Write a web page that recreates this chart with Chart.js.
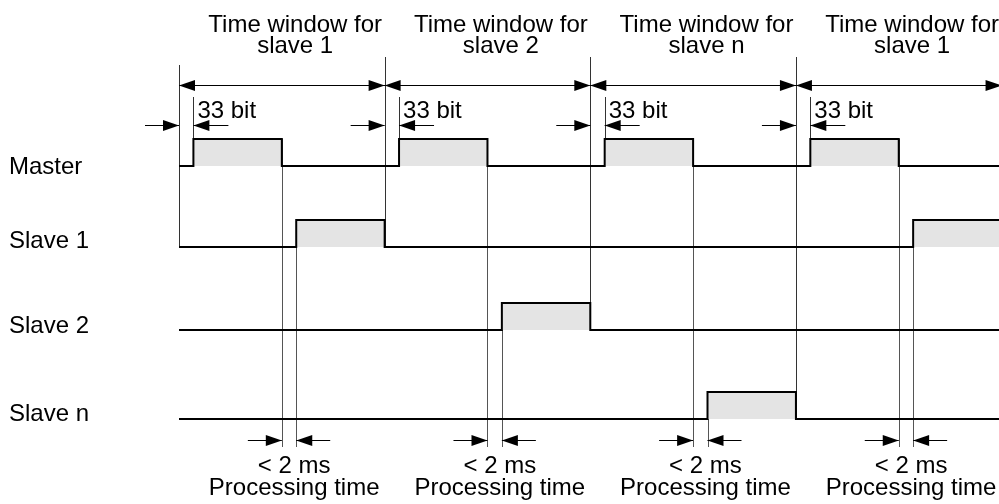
<!DOCTYPE html>
<html>
<head>
<meta charset="utf-8">
<script src="https://cdn.jsdelivr.net/npm/chart.js@4"></script>
<style>
  html, body { margin: 0; padding: 0; background: #fff; }
  #wrap { width: 999px; height: 504px; position: relative; }
</style>
</head>
<body>
<div id="wrap"><canvas id="timing"></canvas></div>
<script>
// timing diagram: master polls slaves one time window each

// data (time in units, one window = 20 units)
const windowStarts = [0, 20, 40, 60];
const windowLength = 20;
const windowTitles = [
  ['Time window for', 'slave 1'],
  ['Time window for', 'slave 2'],
  ['Time window for', 'slave n'],
  ['Time window for', 'slave 1']
];
const laneNames = ['Master', 'Slave 1', 'Slave 2', 'Slave n'];
const masterPulses = [[1.4, 10], [21.4, 30], [41.4, 50], [61.4, 70]];
const slave1Pulses = [[11.4, 20], [71.4, 80]];
const slave2Pulses = [[31.4, 40]];
const slaveNPulses = [[51.4, 60]];
const responderLane = [1, 2, 3, 1];   // which lane answers in each window
const bitLabel = '33 bit';
const procLabels = ['< 2 ms', 'Processing time'];

// layout (y scale runs top -> bottom in pixel-like units)
const laneBase = [166, 247, 330, 419];
const pulseHeight = 27;
const xMin = -17.41, xMax = 79.75;
const FONT = '24px "Liberation Sans", Arial, sans-serif';

function wave(pulses, base) {
  const hi = base - pulseHeight;
  const pts = [{ x: 0, y: base }];
  pulses.forEach(([s, e]) => {
    pts.push({ x: s, y: base }, { x: s, y: hi }, { x: e, y: hi }, { x: e, y: base });
  });
  pts.push({ x: xMax + 1, y: base });
  return pts;
}

const lanePulses = [masterPulses, slave1Pulses, slave2Pulses, slaveNPulses];

const datasets = lanePulses.map((p, i) => ({
  label: laneNames[i],
  data: wave(p, laneBase[i]),
  borderColor: '#000',
  borderWidth: 2,
  backgroundColor: '#e4e4e4',
  fill: { value: laneBase[i] },
  pointRadius: 0,
  tension: 0
}));

function arrowHead(ctx, xTip, y, dir) {
  // dir = 1 points right, -1 points left
  const len = 16, half = 5.5;
  ctx.beginPath();
  ctx.moveTo(xTip, y);
  ctx.lineTo(xTip - dir * len, y - half);
  ctx.lineTo(xTip - dir * len, y + half);
  ctx.closePath();
  ctx.fill();
}

function arrow(ctx, xFrom, xTo, y) {
  ctx.beginPath();
  ctx.moveTo(xFrom, y);
  ctx.lineTo(xTo, y);
  ctx.stroke();
  arrowHead(ctx, xTo, y, xTo > xFrom ? 1 : -1);
}

function vline(ctx, x, y1, y2, color) {
  ctx.strokeStyle = color;
  ctx.beginPath();
  ctx.moveTo(Math.round(x) + 0.5, y1);
  ctx.lineTo(Math.round(x) + 0.5, y2);
  ctx.stroke();
}

const annotations = {
  id: 'annotations',
  beforeDatasetsDraw(chart) {
    const ctx = chart.ctx;
    const px = v => chart.scales.x.getPixelForValue(v);
    const py = v => chart.scales.y.getPixelForValue(v);
    ctx.save();
    ctx.lineWidth = 1;
    // window boundaries
    windowStarts.forEach((a, k) => {
      const lane = responderLane[Math.max(k - 1, 0)];
      vline(ctx, px(a), k === 0 ? 65 : 57, py(laneBase[lane]), '#333');
    });
    // master pulse starts
    masterPulses.forEach(([s]) => vline(ctx, px(s), 97, py(laneBase[0] - pulseHeight), '#333'));
    // processing time lines
    masterPulses.forEach(([, e]) => vline(ctx, px(e), py(laneBase[0] - pulseHeight), 447, '#555'));
    windowStarts.forEach((a, k) => {
      const lane = responderLane[k];
      const s = a + masterPulses[0][1] + masterPulses[0][0];
      vline(ctx, px(s), py(laneBase[lane] - pulseHeight), 447, '#555');
    });
    ctx.restore();
  },
  afterDatasetsDraw(chart) {
    const ctx = chart.ctx;
    const px = v => chart.scales.x.getPixelForValue(v);
    ctx.save();
    ctx.strokeStyle = '#000';
    ctx.fillStyle = '#000';
    ctx.lineWidth = 1;

    // time window arrows
    ctx.beginPath();
    ctx.moveTo(px(windowStarts[0]), 85.5);
    ctx.lineTo(px(windowStarts[3] + windowLength), 85.5);
    ctx.stroke();
    windowStarts.forEach(a => {
      arrowHead(ctx, px(a), 85.5, -1);
      arrowHead(ctx, px(a + windowLength), 85.5, 1);
    });

    // 33 bit arrows
    windowStarts.forEach((a, k) => {
      const s = masterPulses[k][0];
      arrow(ctx, px(a) - 34, px(a), 125.5);
      arrow(ctx, px(s) + 35, px(s), 125.5);
    });

    // processing time arrows
    masterPulses.forEach(([, e]) => {
      const s = e + 1.4;
      arrow(ctx, px(e) - 34, px(e), 440.5);
      arrow(ctx, px(s) + 34, px(s), 440.5);
    });

    // texts
    ctx.font = FONT;
    ctx.textBaseline = 'alphabetic';
    ctx.textAlign = 'center';
    windowStarts.forEach((a, k) => {
      const cx = px(a + 11.3);
      ctx.fillText(windowTitles[k][0], cx, 32);
      ctx.fillText(windowTitles[k][1], cx, 53);
    });
    masterPulses.forEach(([, e]) => {
      const cx = px(e + 1.2);
      ctx.fillText(procLabels[0], cx, 473);
      ctx.fillText(procLabels[1], cx, 495);
    });
    ctx.textAlign = 'left';
    masterPulses.forEach(([s]) => ctx.fillText(bitLabel, px(s) + 4, 118));
    const labelBase = [174, 248, 333, 421];
    laneNames.forEach((n, i) => ctx.fillText(n, 9, labelBase[i]));
    ctx.restore();
  }
};

new Chart(document.getElementById('timing'), {
  type: 'line',
  data: { datasets },
  options: {
    responsive: true,
    maintainAspectRatio: false,
    animation: false,
    events: [],
    layout: { padding: 0 },
    plugins: { legend: { display: false }, tooltip: { enabled: false } },
    scales: {
      x: { type: 'linear', min: xMin, max: xMax, display: false },
      y: { type: 'linear', min: 0, max: 504, reverse: true, display: false }
    }
  },
  plugins: [annotations]
});
</script>
</body>
</html>
